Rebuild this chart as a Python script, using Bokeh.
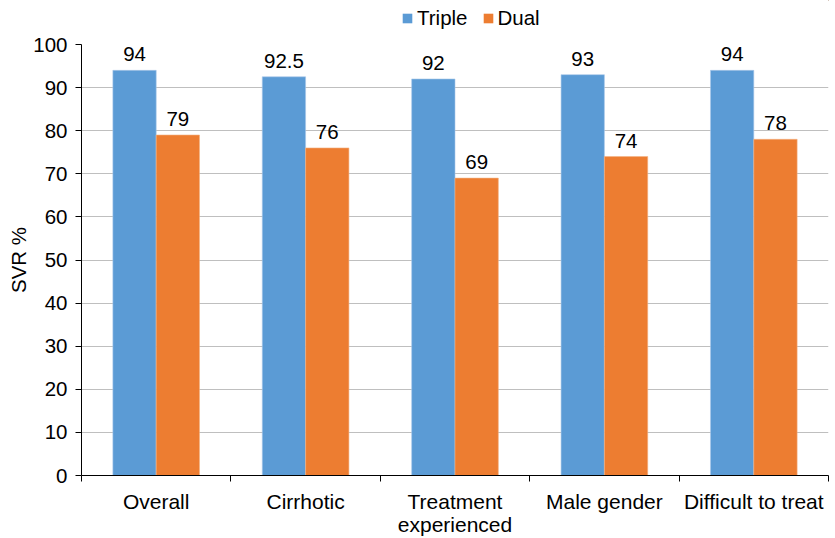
from bokeh.plotting import figure
from bokeh.models import ColumnDataSource, FixedTicker, Legend, LegendItem, Range1d
from bokeh.layouts import column
from bokeh.core.properties import value
from bokeh.embed import file_html
from bokeh.resources import INLINE

categories = ["Overall", "Cirrhotic", "Treatment\nexperienced", "Male gender", "Difficult to treat"]
series_names = ["Triple", "Dual"]
triple = [94, 92.5, 92, 93, 94]
dual = [79, 76, 69, 74, 78]
triple_labels = ["94", "92.5", "92", "93", "94"]
dual_labels = ["79", "76", "69", "74", "78"]
y_ticks = list(range(0, 101, 10))

FONT = "Liberation Sans"
BLUE = "#5B9BD5"
ORANGE = "#ED7D31"
BW = 0.29

centers = [i + 0.5 for i in range(len(categories))]
src_t = ColumnDataSource(dict(x=[c - BW / 2 for c in centers], top=triple, lab=triple_labels))
src_d = ColumnDataSource(dict(x=[c + BW / 2 for c in centers], top=dual, lab=dual_labels))

# ---- legend strip above the chart (its ranges keep the bars far out of view; only the legend shows) ----
lg = figure(width=835, height=30, output_backend="svg", toolbar_location=None,
            x_range=Range1d(-1000, -995), y_range=Range1d(-1000, -999),
            x_axis_location=None, y_axis_location=None,
            min_border_left=0, min_border_right=0, min_border_top=0, min_border_bottom=0)
lg.outline_line_color = None
lg.xgrid.visible = False
lg.ygrid.visible = False
lt = lg.vbar(x="x", top="top", width=BW, bottom=0, source=src_t, fill_color=BLUE, line_color=None)
ld = lg.vbar(x="x", top="top", width=BW, bottom=0, source=src_d, fill_color=ORANGE, line_color=None)
legend = Legend(items=[LegendItem(label=series_names[0], renderers=[lt], index=0),
                       LegendItem(label=series_names[1], renderers=[ld], index=0)],
                orientation="horizontal", location=(320, 0), padding=0, margin=0,
                glyph_width=12, glyph_height=12, label_standoff=4, spacing=14,
                label_text_font=FONT, label_text_font_size="20.5px", label_text_color="black",
                border_line_color=None, background_fill_alpha=0)
lg.add_layout(legend, "center")

# ---- main chart ----
p = figure(width=835, height=508, output_backend="svg", toolbar_location=None,
           x_range=Range1d(0, len(categories)), y_range=Range1d(0, 100),
           min_border_left=81, min_border_top=14, min_border_bottom=63, min_border_right=7)
p.outline_line_color = None
p.background_fill_color = "white"
p.border_fill_color = "white"

p.vbar(x="x", top="top", width=BW, bottom=0, source=src_t, fill_color=BLUE,
       line_color="#A9C8EA", line_width=0.6)
p.vbar(x="x", top="top", width=BW, bottom=0, source=src_d, fill_color=ORANGE,
       line_color="#F4B183", line_width=0.6)

for src in (src_t, src_d):
    p.text(x="x", y="top", text="lab", source=src, text_align="center", text_baseline="alphabetic",
           y_offset=-16, text_font=value(FONT), text_font_size="20.5px", text_color="black")

xa = p.xaxis[0]
xa.ticker = FixedTicker(ticks=centers, minor_ticks=list(range(len(categories) + 1)))
xa.major_label_overrides = {c: lab for c, lab in zip(centers, categories)}
xa.major_tick_out = 0
xa.major_tick_in = 0
xa.minor_tick_out = 6
xa.minor_tick_in = 0
xa.minor_tick_line_color = "black"
xa.axis_line_color = "black"
xa.major_label_text_font = FONT
xa.major_label_text_font_size = "21px"
xa.major_label_text_color = "black"
xa.major_label_text_line_height = 1.0
xa.major_label_standoff = 8

ya = p.yaxis[0]
ya.ticker = FixedTicker(ticks=y_ticks, minor_ticks=[])
ya.major_tick_out = 6
ya.major_tick_in = 0
ya.major_tick_line_color = "black"
ya.axis_line_color = "black"
ya.major_label_text_font = FONT
ya.major_label_text_font_size = "20.5px"
ya.major_label_text_color = "black"
ya.major_label_standoff = 8
ya.axis_label = "SVR %"
ya.axis_label_text_font = FONT
ya.axis_label_text_font_size = "20.5px"
ya.axis_label_text_font_style = "normal"
ya.axis_label_text_color = "black"
ya.axis_label_standoff = 0

p.xgrid.grid_line_color = None
p.ygrid.grid_line_color = "#BFBFBF"
p.ygrid.grid_line_width = 1

layout = column(lg, p, spacing=0)
open("out.html", "w").write(file_html(layout, INLINE))
